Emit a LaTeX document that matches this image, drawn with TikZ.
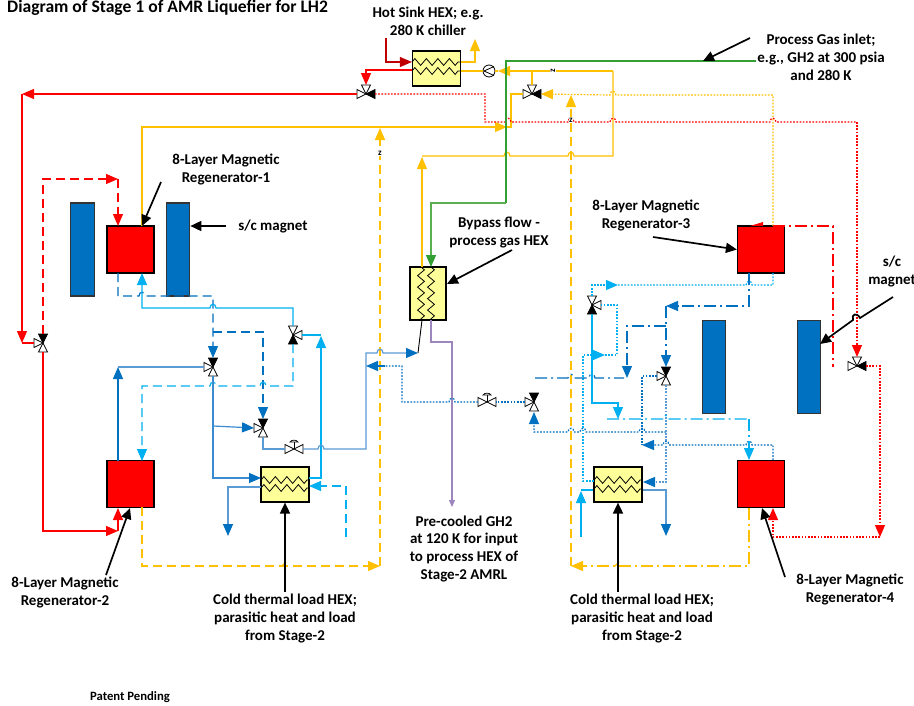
\documentclass[tikz,border=0pt]{standalone}
\usepackage{fontspec}
\setmainfont{Carlito}
\usetikzlibrary{arrows.meta,decorations.pathmorphing,calc}
\definecolor{cy}{HTML}{FFC000}
\definecolor{cr}{HTML}{FF0000}
\definecolor{cdr}{HTML}{C00000}
\definecolor{cb}{HTML}{0070C0}
\definecolor{cbl}{HTML}{5B9BD5}
\definecolor{cmid}{HTML}{3A8BCF}
\definecolor{clb}{HTML}{00B0F0}
\definecolor{cg}{HTML}{339F33}
\definecolor{cgl}{HTML}{5CAF50}
\definecolor{cp}{HTML}{9D86BE}
\definecolor{hexy}{HTML}{FFFF99}
\tikzset{
 wire/.style={line width=1.2pt,line join=miter},
 ah/.style={-{Triangle[length=12pt,width=10pt]}},
 ahs/.style={-{Triangle[length=12pt,width=10pt,color=#1]}},
 dsh/.style={dash pattern=on 9pt off 5pt},
 dot/.style={dash pattern=on 1.7pt off 1.5pt},
 dd/.style={dash pattern=on 12pt off 4pt on 2pt off 4pt},
 regen/.style={draw=black,fill=cr,line width=1.2pt,minimum width=47pt,minimum height=47pt,inner sep=0pt},
 magnet/.style={draw=black!80,fill=cb,line width=1.2pt,minimum width=23.5pt,minimum height=93pt,inner sep=0pt},
 hexbox/.style={draw=black,fill=hexy,line width=1.2pt,minimum width=48pt,minimum height=35pt,inner sep=0pt},
 zig/.style={draw=black,line width=.8pt,decorate,decoration={zigzag,amplitude=3.4pt,segment length=11.5pt}},
 lbl/.style={font=\fontsize{15}{18}\selectfont\bfseries,align=center,inner sep=0pt},
 zmark/.style={font=\fontsize{9}{9}\selectfont\bfseries,fill=white,inner sep=.4pt},
 point/.style={line width=1.7pt,-{Triangle[length=11pt,width=10pt]}},
 varmw/.style={draw=black,fill=white,line width=.7pt},
 varmk/.style={draw=black,fill=black,line width=.7pt},
 varmn/.style={draw=none},
}
\newcommand{\valve}[7]{%
 \coordinate (#1) at (#2,#3);
 \coordinate (#1n) at (#2,#3-9);
 \coordinate (#1e) at (#2+9,#3);
 \coordinate (#1s) at (#2,#3+9);
 \coordinate (#1w) at (#2-9,#3);
 \path[varm#4] (#2,#3) -- ++(-4.5,-9) -- ++(9,0) -- cycle;
 \path[varm#5] (#2,#3) -- ++(9,-4.5) -- ++(0,9) -- cycle;
 \path[varm#6] (#2,#3) -- ++(-4.5,9) -- ++(9,0) -- cycle;
 \path[varm#7] (#2,#3) -- ++(-9,-4.5) -- ++(0,9) -- cycle;
}
\newcommand{\gatev}[3]{%
 \coordinate (#1) at (#2,#3);
 \coordinate (#1e) at (#2+9,#3);
 \coordinate (#1w) at (#2-9,#3);
 \path[varmw] (#2,#3) -- ++(-9,-4.5) -- ++(0,9) -- cycle;
 \path[varmw] (#2,#3) -- ++(9,-4.5) -- ++(0,9) -- cycle;
 \draw[line width=.7pt] (#2,#3) -- ++(0,-7);
 \draw[line width=.7pt,fill=white] (#2-4,#3-7) .. controls (#2-3,#3-9.5) and (#2+3,#3-9.5) .. (#2+4,#3-7) -- cycle;
}
\def\hopr#1#2{-- ({#1-3},#2) .. controls ({#1-3},{#2-5}) and ({#1+3},{#2-5}) .. ({#1+3},#2)}
\def\hopl#1#2{-- ({#1+3},#2) .. controls ({#1+3},{#2-5}) and ({#1-3},{#2-5}) .. ({#1-3},#2)}
\begin{document}
\begin{tikzpicture}[x=1pt,y=-1pt]
\useasboundingbox (0,0) rectangle (914,705);
\fill[white] (0,0) rectangle (914,705);

% valves
\valve{va}{366}{94}{w}{k}{n}{w}
\valve{vb}{532}{94}{w}{k}{n}{w}
\valve{vc}{43}{343}{k}{n}{w}{w}
\valve{vd}{213}{367}{k}{n}{w}{w}
\valve{ve}{263}{428}{k}{n}{w}{w}
\valve{vf}{293}{335}{w}{w}{k}{n}
\valve{vg}{534}{402}{k}{n}{w}{w}
\valve{vh}{592}{305}{w}{w}{k}{n}
\valve{vi}{666}{376}{k}{n}{w}{w}
\valve{vj}{857}{366}{w}{k}{n}{w}
\gatev{ga}{294}{449}
\gatev{gb}{487}{402}

% equipment
\node[regen] (ra) at (130.5,249.5) {};
\node[regen] (rb) at (130.5,484) {};
\node[regen] (rc) at (761,249.5) {};
\node[regen] (rd) at (761,484) {};
\node[magnet] (ma) at (82.5,249.5) {};
\node[magnet] (mb) at (178,249.5) {};
\node[magnet] (mc) at (714,367) {};
\node[magnet] (md) at (809,367) {};
\node[hexbox] (hot) at (436.5,68.5) {};
\node[hexbox] (ca) at (285,484.5) {};
\node[hexbox] (cc) at (618,484.5) {};
\node[hexbox,minimum width=36pt,minimum height=53pt] (by) at (428,293.5) {};
\node[circle,draw=black,fill=white,line width=.8pt,minimum size=12pt,inner sep=0pt] (pump) at (489,71) {};
\draw[line width=.8pt] (494,66.5) -- (484,71) -- (494,75.5);

\draw[zig] (412,62) -- (461,62);
\draw[zig] (412,71) -- (461,71);
\draw[zig] (261,480) -- (309,480);
\draw[zig] (261,488) -- (309,488);
\draw[zig] (594,480) -- (642,480);
\draw[zig] (594,489) -- (642,489);
\draw[zig] (421,267) -- (421,320);
\draw[zig] (431,267) -- (431,320);

% ---- yellow
\begin{scope}[wire,draw=cy,color=cy]
\draw[ah] (hot.east |- 0,62) -- (475,62) -- (475,39);
\draw (hot.east |- 0,71) -- (pump.west);
\draw[ah] (613,71) -- (498,71);
\draw (498,71) -- (pump.east);
\draw (532,71) -- (vbn);
\draw[ah] (422,267) -- (422,157);
\draw (422,156) \hopr{507}{156} \hopr{571}{156} -- (613,156) -- (613,71);
\draw[ah] (142,226) -- (142,127) -- (507,127);
\draw (505,127) -- (511,127) -- (511,94) -- (vbw);
\draw[ah,dot] (773,226) -- (773,95) \hopl{613}{95} -- (vbe);
\draw[ah,dsh] (142,507) -- (142,566) -- (380,566);
\draw[ah,dsh] (380,566) -- (380,128);
\draw[ah,dd] (749,508) -- (749,566) -- (571,566);
\draw[ah,dsh] (571,566) -- (571,95);
\draw (282,566) -- (286,562);
\draw (615,566) -- (619,562);
\end{scope}

% ---- red
\begin{scope}[wire,draw=cr,color=cr]
\draw[ah,draw=cdr,color=cdr] (386,38) -- (386,62) -- (hot.west |- 0,62);
\draw[ah] (hot.west |- 0,70) -- (366,70) -- (van);
\draw[ah] (vaw) -- (22,94);
\draw[ah] (22,94) -- (22,343);
\draw (22,343) -- (vcw);
\draw[ah,dsh] (vcn) -- (43,179) -- (118,179);
\draw[ah,dsh] (118,179) -- (118,226);
\draw[ah] (vcs) -- (43,531) -- (118,531);
\draw[ah] (118,531) -- (118,508);
\draw[dot] (vae) -- (485,94) -- (485,122) \hopr{508}{122} \hopr{571}{122} \hopr{613}{122} \hopr{773}{122} -- (857,122);
\draw[ah,dot] (857,122) -- (vjn);
\draw[ah,dot] (vje) -- (880,366) -- (880,537);
\draw[ah,dot] (880,537) -- (773,537) -- (773,508);
\draw[dd] (773,226) -- (833,226) -- (833,367);
\fill (750,226) -- (763,222) -- (763,226) -- cycle;
\end{scope}

% ---- green and purple
\draw[wire,cg] (756,61) -- (506,61) -- (506,203);
\draw[wire,cgl,ahs=cg] (506,203) -- (431,203) -- (431,267);
\draw[wire,cp,-{Triangle[length=7pt,width=6pt]}] (431,320) -- (431,342) -- (452,342) -- (452,507);

% ---- blue, left half
\begin{scope}[wire]
\draw[cb,dsh,ah] (118,273) -- (118,296) \hopr{142}{296} -- (213,296) -- (vdn);
\draw[cb,dsh,ah] (213,332) -- (263,332) -- (ven);
\draw[clb,dsh,ah] (vfs) -- (293,386) \hopl{263}{386} \hopl{213}{386} -- (142,386) -- (142,461);
\draw[clb,ah] (vfn) -- (293,308) \hopl{213}{308} -- (142,308) -- (142,273);
\draw[clb] (vfe) -- (321,335);
\draw[clb,ah] (309,478) -- (321,478) -- (321,336);
\draw[cb,ah] (118,461) -- (118,367);
\draw[cbl] (118,367) -- (vdw);
\draw[cmid,ahs=cb] (vds) -- (213,478) -- (261,478);
\draw[cmid,ahs=cb] (213,426) -- (vew);
\draw[cbl] (ves) -- (263,449) -- (gaw);
\draw[cbl,ahs=cb] (gae) \hopr{321}{449} -- (366,449) -- (366,353) \hopr{380}{353} -- (418,353);
\draw[black,line width=.9pt] (418,353) -- (422,320);
\draw[cbl,ahs=cb] (261,487) -- (228,487) -- (228,536);
\draw[clb,dsh,ah] (346,537) -- (346,486) -- (309,486);
% centre
\draw[cb,dot] (gbw) \hopl{452}{402} -- (402,402) -- (402,366) -- (385,366);
\draw[ahs=cb,cb] (385,366) -- (366,366);
\draw[cb,dot] (vgw) -- (gbe);
\draw[ah,cb,dot] (666,432) \hopl{642}{432} \hopl{583}{432} \hopl{571}{432} -- (534,432) -- (534,412);
% ---- blue, right half
\draw[cbl,dot,ahs=cb,line width=1.4pt] (vis) -- (666,482) -- (643,482);
\draw[cb,dot] (viw) -- (642,376) -- (642,445);
\draw[cb,dot,ah] (773,460) -- (773,445) \hopl{749}{445} \hopl{666}{445} -- (642,445);
\draw[clb,dot,ah] (vhn) -- (592,285) -- (618,285);
\draw[clb,dot] (618,285) \hopr{749}{285} -- (773,285) -- (773,273);
\draw[clb,dot,ah] (594,481) -- (583,481) -- (583,355) -- (605,355);
\draw[clb,dot] (605,355) -- (617,355) -- (617,305) -- (vhe);
\draw[cb,dd,ah] (749,273) -- (749,306) -- (666,306);
\draw[cb,dd,ah] (666,306) -- (vin);
\draw[cb,dd,ah] (666,326) -- (627,326) -- (627,378);
\draw[cb,dd] (535,378) \hopr{571}{378} \hopr{592}{378} -- (624,378);
\draw[clb,ah] (vhs) -- (592,403) -- (618,403) -- (618,419);
\draw[clb,dd] (607,419) \hopr{666}{419} -- (749,419);
\draw[clb,dd,ah] (749,419) -- (749,460);
\draw[clb,ah] (581,537) -- (581,491);
\draw[clb] (581,490) -- (cc.west |- 0,490);
\draw[cbl,ahs=cb] (cc.east |- 0,490) -- (666,490) -- (666,536);
\end{scope}

% z marks
\node[zmark,rotate=90] (za) at (553,71) {z};
\node[zmark] (zb) at (571,120) {z};
\node[zmark] (zc) at (380,153) {z};

% labels
\node[lbl,anchor=west,font=\fontsize{17.6}{20}\selectfont\bfseries] (title) at (7,8) {Diagram of Stage 1 of AMR Liquefier for LH2};
\node[lbl] (lhot) at (428,21) {Hot Sink HEX; e.g.\\280 K chiller};
\node[lbl] (lgas) at (821,57) {Process Gas inlet;\\e.g., GH2 at 300 psia\\and 280 K};
\node[lbl] (lra) at (226,169) {8-Layer Magnetic\\Regenerator-1};
\node[lbl] (lsc) at (273,227) {s/c magnet};
\node[lbl] (lby) at (499,233) {Bypass flow -\\process gas HEX};
\node[lbl] (lrc) at (646,215) {8-Layer Magnetic\\Regenerator-3};
\node[lbl] (lsd) at (892,272) {s/c\\magnet};
\node[lbl] (lrb) at (65,592) {8-Layer Magnetic\\Regenerator-2};
\node[lbl] (lca) at (285,618) {Cold thermal load HEX;\\parasitic heat and load\\from Stage-2};
\node[lbl] (lpre) at (464,549) {Pre-cooled GH2\\at 120 K for input\\to process HEX of\\Stage-2 AMRL};
\node[lbl] (lcc) at (642,618) {Cold thermal load HEX;\\parasitic heat and load\\from Stage-2};
\node[lbl] (lrd) at (850,589) {8-Layer Magnetic\\Regenerator-4};
\node[lbl,font=\fontsize{12.7}{14}\selectfont\bfseries] (lpat) at (130,697) {Patent Pending};

% pointer arrows
\draw[point] (161,182) -- (142,226);
\draw[point] (226,226) -- (mb.east |- 0,226);
\draw[point] (106,575) -- (130,508);
\draw[point] (285,592) -- (ca.south);
\draw[point] (618,592) -- (cc.south);
\draw[point] (785,577) -- (762,508);
\draw[point] (653,237) -- (rc.west);
\draw[point] (512,250) -- (447,284);
\draw[point] (750,38) -- (703,61);
\draw[point] (893,297) -- (860,318) .. controls (857,312) and (851,314) .. (853,320) -- (835,333) -- (820,344);
\end{tikzpicture}
\end{document}
